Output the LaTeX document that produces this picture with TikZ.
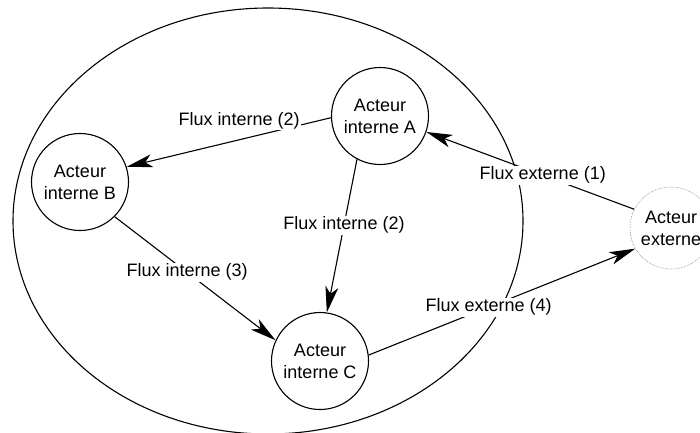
\documentclass[tikz,border=0pt]{standalone}
\usepackage{fontspec}
\setmainfont{Liberation Sans}
\usetikzlibrary{arrows.meta}

\begin{document}
\begin{tikzpicture}[->,>={Stealth[length=26pt,width=13pt,inset=7pt]},x=1pt,y=-1pt,
    line width=1.1pt,font=\fontsize{18}{22}\selectfont,
    acteur/.style={circle,draw,fill=white,align=center,inner sep=0pt,minimum size=97pt},
    externe/.style={circle,draw=gray,densely dotted,line width=.6pt,align=center,inner sep=0pt,minimum size=82pt},
    flux/.style={fill=white,inner sep=1pt}]

  \useasboundingbox (0,0) rectangle (700,432);
  \draw[-] (268,221) ellipse [x radius=255pt, y radius=213pt];

  \node[acteur] (A) at (380,116) {Acteur\\interne A};
  \node[acteur] (B) at (80,182) {Acteur\\interne B};
  \node[acteur] (C) at (320,361) {Acteur\\interne C};
  \node[externe] (E) at (671,228) {Acteur\\externe};

  \path
        (A.182) edge node[flux,pos=.45,yshift=19pt] {Flux interne (2)} (B.18)
        (A.242) edge node[flux,pos=.43] {Flux interne (2)} (C.82)
        (B.-45) edge node[flux,pos=.45] {Flux interne (3)} (C.155)
        (E.153) edge node[flux,pos=.44] {Flux externe (1)} (A.-19)
        (C.7)   edge node[flux,pos=.45] {Flux externe (4)} (E.210)
        ;

\end{tikzpicture}
\end{document}
